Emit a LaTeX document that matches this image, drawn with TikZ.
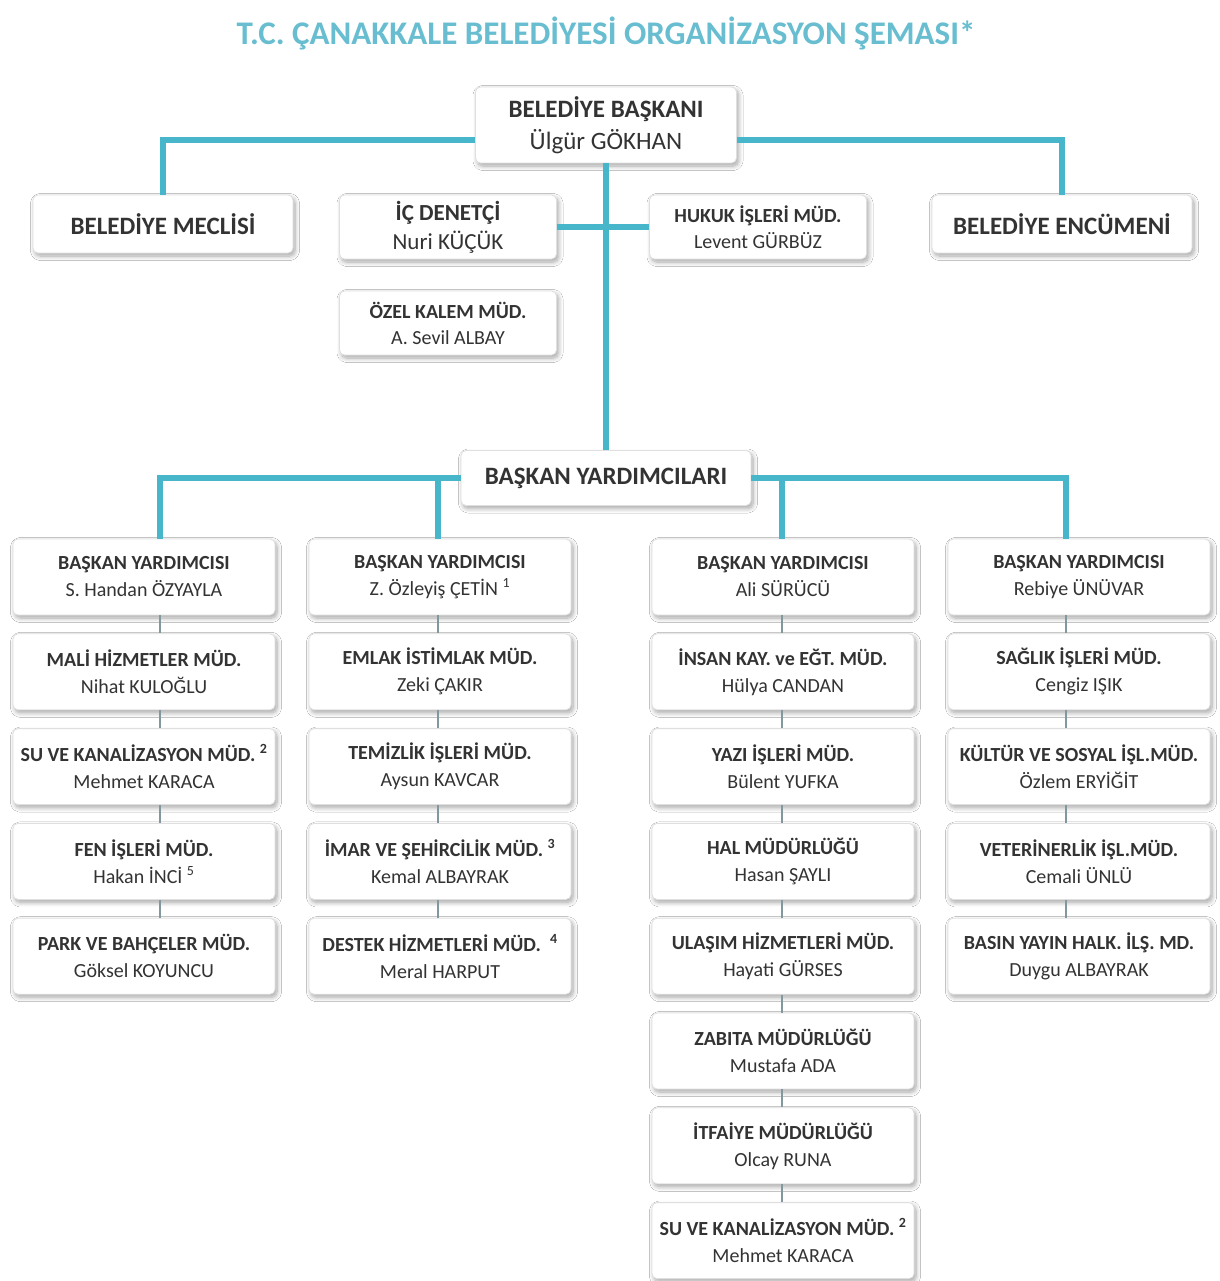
\documentclass[tikz,border=0pt]{standalone}
\usepackage{fontspec}
\setmainfont{Carlito}
\usetikzlibrary{positioning,shadows.blur,calc}
\definecolor{orgteal}{RGB}{72,182,202}
\definecolor{titleteal}{RGB}{104,190,208}
\definecolor{linkgray}{RGB}{130,152,158}
\newcommand{\orgtext}[2]{{\bfseries #1}\\#2}
\tikzset{
  box_n/.style = {draw=gray!25, fill=white, rounded corners=5pt, align=center, inner sep=3pt,
    line width=0.8pt, text=black!80, blur shadow={shadow xshift=2pt, shadow yshift=-3pt,
    shadow blur radius=4.5pt, shadow blur steps=8, shadow opacity=35}},
  box_s/.style = {box_n, minimum width=262pt, minimum height=76pt, font=\fontsize{20}{27}\selectfont},
  box_m/.style = {box_n, minimum width=217pt, minimum height=64pt, font=\fontsize{20}{26}\selectfont},
  box_l/.style = {box_n, font=\fontsize{25}{32}\selectfont},
  link_main/.style = {orgteal, line width=6pt},
  link_thin/.style = {linkgray, line width=1.5pt}
}

\begin{document}
\begin{tikzpicture}[x=1pt, y=-1pt, node distance=18pt]
\fill[white] (0,0) rectangle (1219,1281);
\useasboundingbox (0,0) rectangle (1219,1281);

\node[font=\bfseries\fontsize{33}{36}\selectfont, text=titleteal] (title) at (606,33)
  {T.C. ÇANAKKALE BELEDİYESİ ORGANİZASYON ŞEMASI*};

% top level
\node[box_l, minimum width=261pt, minimum height=76pt] (baskan) at (606,125) {\orgtext{BELEDİYE BAŞKANI}{Ülgür GÖKHAN}};
\node[box_l, minimum width=260pt, minimum height=58pt] (meclis) at (163,224) {\textbf{BELEDİYE MECLİSİ}};
\node[box_l, minimum width=260pt, minimum height=58pt] (encumen) at (1062,224) {\textbf{BELEDİYE ENCÜMENİ}};
\node[box_m, font=\fontsize{23}{29}\selectfont] (denetci) at (448,227) {\orgtext{İÇ DENETÇİ}{Nuri KÜÇÜK}};
\node[box_m] (hukuk) at (758,227) {\orgtext{HUKUK İŞLERİ MÜD.}{Levent GÜRBÜZ}};
\node[box_m] (kalem) at (448,323) {\orgtext{ÖZEL KALEM MÜD.}{A. Sevil ALBAY}};
\node[box_l, minimum width=290pt, minimum height=55pt] (yrd) at (606,478) {\textbf{BAŞKAN YARDIMCILARI}};

% column 1
\node[box_s] (c1-1) at (144,577) {\orgtext{BAŞKAN YARDIMCISI}{S. Handan ÖZYAYLA}};
\node[box_s, below=of c1-1] (c1-2) {\orgtext{MALİ HİZMETLER MÜD.}{Nihat KULOĞLU}};
\node[box_s, below=of c1-2] (c1-3) {\orgtext{SU VE KANALİZASYON MÜD. \textsuperscript{2}}{Mehmet KARACA}};
\node[box_s, below=of c1-3] (c1-4) {\orgtext{FEN İŞLERİ MÜD.}{Hakan İNCİ \textsuperscript{5}}};
\node[box_s, below=of c1-4] (c1-5) {\orgtext{PARK VE BAHÇELER MÜD.}{Göksel KOYUNCU}};

% column 2
\node[box_s] (c2-1) at (440,577) {\orgtext{BAŞKAN YARDIMCISI}{Z. Özleyiş ÇETİN \textsuperscript{1}}};
\node[box_s, below=of c2-1] (c2-2) {\orgtext{EMLAK İSTİMLAK MÜD.}{Zeki ÇAKIR}};
\node[box_s, below=of c2-2] (c2-3) {\orgtext{TEMİZLİK İŞLERİ MÜD.}{Aysun KAVCAR}};
\node[box_s, below=of c2-3] (c2-4) {\orgtext{İMAR VE ŞEHİRCİLİK MÜD. \textsuperscript{3}}{Kemal ALBAYRAK}};
\node[box_s, below=of c2-4] (c2-5) {\orgtext{DESTEK HİZMETLERİ MÜD. \ \textsuperscript{4}}{Meral HARPUT}};

% column 3
\node[box_s] (c3-1) at (783,577) {\orgtext{BAŞKAN YARDIMCISI}{Ali SÜRÜCÜ}};
\node[box_s, below=of c3-1] (c3-2) {\orgtext{İNSAN KAY. ve EĞT. MÜD.}{Hülya CANDAN}};
\node[box_s, below=of c3-2] (c3-3) {\orgtext{YAZI İŞLERİ MÜD.}{Bülent YUFKA}};
\node[box_s, below=of c3-3] (c3-4) {\orgtext{HAL MÜDÜRLÜĞÜ}{Hasan ŞAYLI}};
\node[box_s, below=of c3-4] (c3-5) {\orgtext{ULAŞIM HİZMETLERİ MÜD.}{Hayati GÜRSES}};
\node[box_s, below=of c3-5] (c3-6) {\orgtext{ZABITA MÜDÜRLÜĞÜ}{Mustafa ADA}};
\node[box_s, below=of c3-6] (c3-7) {\orgtext{İTFAİYE MÜDÜRLÜĞÜ}{Olcay RUNA}};
\node[box_s, below=of c3-7] (c3-8) {\orgtext{SU VE KANALİZASYON MÜD. \textsuperscript{2}}{Mehmet KARACA}};

% column 4
\node[box_s] (c4-1) at (1079,577) {\orgtext{BAŞKAN YARDIMCISI}{Rebiye ÜNÜVAR}};
\node[box_s, below=of c4-1] (c4-2) {\orgtext{SAĞLIK İŞLERİ MÜD.}{Cengiz IŞIK}};
\node[box_s, below=of c4-2] (c4-3) {\orgtext{KÜLTÜR VE SOSYAL İŞL.MÜD.}{Özlem ERYİĞİT}};
\node[box_s, below=of c4-3] (c4-4) {\orgtext{VETERİNERLİK İŞL.MÜD.}{Cemali ÜNLÜ}};
\node[box_s, below=of c4-4] (c4-5) {\orgtext{BASIN YAYIN HALK. İLŞ. MD.}{Duygu ALBAYRAK}};

% main links
\draw[link_main] ([yshift=-15pt]baskan.west) -| (meclis.north);
\draw[link_main] ([yshift=-15pt]baskan.east) -| (encumen.north);
\draw[link_main] (baskan.south) -- (yrd.north);
\draw[link_main] (denetci.east) -- (hukuk.west);
\draw[link_main] (yrd.west) -| ($(c1-1.north)+(16,0)$);
\draw[link_main] (yrd.west) -| ($(c2-1.north)+(-2,0)$);
\draw[link_main] (yrd.east) -| ($(c3-1.north)+(-1,0)$);
\draw[link_main] (yrd.east) -| ($(c4-1.north)+(-13,0)$);

% thin links inside columns
\foreach \c/\dx/\n in {1/16/4, 2/-2/4, 3/-1/7, 4/-13/4}
  \foreach \r [count=\s from 2] in {1,...,\n}
    \draw[link_thin] ($(c\c-\r.south)+(\dx,0)$) -- ($(c\c-\s.north)+(\dx,0)$);
\end{tikzpicture}
\end{document}
